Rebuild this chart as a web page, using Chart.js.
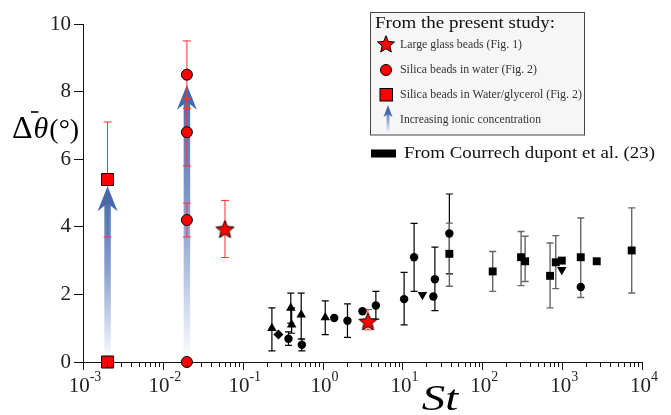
<!DOCTYPE html>
<html><head><meta charset="utf-8">
<script src="https://cdn.jsdelivr.net/npm/chart.js@4"></script>
<style>html,body{margin:0;padding:0;background:#fff}</style>
</head><body>
<canvas id="c" width="671" height="415"></canvas>
<script>
// ---- tick labels ----
const xDecades = [-3, -2, -1, 0, 1, 2, 3, 4];
const yTickValues = [0, 2, 4, 6, 8, 10];

// ---- present study (red) ----
const glassX = [0.060, 3.7];
const glassY = [3.93, 1.2];
const glassLo = [3.09, 0.95];
const glassHi = [4.78, 1.55];

const waterX = [0.020, 0.020, 0.020, 0.020];
const waterY = [0, 4.2, 6.8, 8.5];
const waterLo = [null, 3.7, 5.8, 7.5];
const waterHi = [null, 4.7, 7.8, 9.5];

const glycX = [0.00203, 0.00203];
const glycY = [0, 5.4];
const glycLo = [null, 3.7];
const glycHi = [null, 7.1];

// ionic concentration arrows
const arrowX = [0.00203, 0.020];
const arrowFrom = [0, 0];
const arrowTo = [5.2, 8.2];

// ---- Courrech du Pont et al. (black) ----
const circX = [0.374, 0.55, 1.4, 2.05, 3.16, 4.65, 10.5, 14, 24.4, 25.5, 38.7, 1710];
const circY = [0.69, 0.51, 1.3, 1.22, 1.5, 1.67, 1.86, 3.1, 1.94, 2.45, 3.8, 2.22];
const circLo = [0.49, 0.33, null, 0.73, null, 1.27, 1.1, 2.09, null, 1.52, 2.61, null];
const circHi = [0.89, 0.68, null, 1.72, null, 2.09, 2.65, 4.1, null, 3.4, 4.97, null];

const triUpX = [0.232, 0.40, 0.41, 0.54, 1.08];
const triUpY = [1.0, 1.6, 1.1, 1.4, 1.32];
const triUpLo = [0.33, 1.15, 0.85, 0.68, 0.81];
const triUpHi = [1.6, 2.04, 1.6, 2.04, 1.81];

const triDnX = [17.8, 990];
const triDnY = [1.99, 2.73];

const diaX = [0.28];
const diaY = [0.81];

const sqX = [38.7, 135, 306, 344, 706, 832, 990, 1710, 2710, 7430];
const sqY = [3.2, 2.68, 3.1, 2.98, 2.55, 2.95, 3.0, 3.1, 2.98, 3.3];
const sqLo = [2.24, 2.09, 2.26, 2.38, 1.6, 2.17, null, 1.91, null, 2.04];
const sqHi = [4.11, 3.27, 3.86, 3.72, 3.52, 3.74, null, 4.26, null, 4.56];

const SERIF = '"Liberation Serif", "DejaVu Serif", serif';

function pts(xs, ys) { return xs.map((x, i) => ({x: x, y: ys[i]})); }

function makeStar(r, fill, stroke) {
  const s = Math.ceil(2 * r + 4);
  const c = document.createElement('canvas');
  c.width = s; c.height = s;
  const g = c.getContext('2d');
  const cx = s / 2, cy = s / 2 + r * 0.08;
  g.beginPath();
  for (let i = 0; i < 10; i++) {
    const rr = i % 2 === 0 ? r : r * 0.45;
    const a = -Math.PI / 2 + i * Math.PI / 5;
    const px = cx + rr * Math.cos(a), py = cy + rr * Math.sin(a);
    if (i === 0) g.moveTo(px, py); else g.lineTo(px, py);
  }
  g.closePath();
  g.fillStyle = fill; g.fill();
  g.lineWidth = 1; g.strokeStyle = stroke; g.stroke();
  return c;
}
const starImg = makeStar(9.5, '#ff0000', '#000');
const starLegend = makeStar(9, '#ff0000', '#000');

const errorSets = [
  {x: circX, y: circY, lo: circLo, hi: circHi, color: '#000', cap: 3.5, w: 1.2},
  {x: triUpX, y: triUpY, lo: triUpLo, hi: triUpHi, color: '#000', cap: 3.5, w: 1.2},
  {x: sqX, y: sqY, lo: sqLo, hi: sqHi, color: '#666', cap: 3.5, w: 1.4},
  {x: glassX, y: glassY, lo: glassLo, hi: glassHi, color: '#ff3030', cap: 4, w: 1},
  {x: waterX, y: waterY, lo: waterLo, hi: waterHi, color: '#ff3030', cap: 4, w: 1},
  {x: glycX, y: glycY, lo: glycLo, hi: glycHi, color: '#ff3030', cap: 4, w: 1}
];

function drawArrow(ctx, x, yBase, yTip, shaftW, headW, headL, notch) {
  const grad = ctx.createLinearGradient(0, yBase, 0, yTip);
  grad.addColorStop(0, 'rgba(255,255,255,1)');
  grad.addColorStop(0.5, 'rgba(140,162,208,1)');
  grad.addColorStop(1, 'rgba(72,104,172,1)');
  ctx.fillStyle = grad;
  ctx.fillRect(x - shaftW / 2, yTip + headL - notch, shaftW, yBase - (yTip + headL - notch));
  ctx.beginPath();
  ctx.moveTo(x, yTip);
  ctx.lineTo(x + headW / 2, yTip + headL);
  ctx.lineTo(x, yTip + headL - notch);
  ctx.lineTo(x - headW / 2, yTip + headL);
  ctx.closePath();
  ctx.fillStyle = 'rgb(72,104,172)';
  ctx.fill();
}

function fitText(ctx, text, x, yMid, targetW, size, style) {
  ctx.font = style + ' ' + size + 'px ' + SERIF;
  const w = ctx.measureText(text).width;
  ctx.save();
  ctx.translate(x, yMid);
  ctx.scale(targetW / w, 1);
  ctx.textBaseline = 'middle';
  ctx.textAlign = 'left';
  ctx.fillText(text, 0, 0);
  ctx.restore();
}

const decor = {
  id: 'decor',
  beforeDatasetsDraw(chart) {
    const ctx = chart.ctx, xs = chart.scales.x, ys = chart.scales.y;
    ctx.save();
    for (let i = 0; i < arrowX.length; i++) {
      drawArrow(ctx, xs.getPixelForValue(arrowX[i]), ys.getPixelForValue(arrowFrom[i]),
        ys.getPixelForValue(arrowTo[i]), 6.5, 20, 25, 8);
    }
    errorSets.forEach(s => {
      ctx.strokeStyle = s.color; ctx.lineWidth = s.w;
      s.x.forEach((xv, i) => {
        if (s.lo[i] == null) return;
        const px = xs.getPixelForValue(xv);
        const p1 = ys.getPixelForValue(s.lo[i]), p2 = ys.getPixelForValue(s.hi[i]);
        ctx.beginPath();
        ctx.moveTo(px, p1); ctx.lineTo(px, p2);
        ctx.moveTo(px - s.cap, p1); ctx.lineTo(px + s.cap, p1);
        ctx.moveTo(px - s.cap, p2); ctx.lineTo(px + s.cap, p2);
        ctx.stroke();
      });
    });
    ctx.restore();
  },
  afterDraw(chart) {
    const ctx = chart.ctx, xs = chart.scales.x;
    const area = chart.chartArea;
    ctx.save();
    ctx.strokeStyle = '#111'; ctx.lineWidth = 1;
    for (let n = xDecades[0]; n <= xDecades[xDecades.length - 1]; n++) {
      for (let m = 1; m <= 9; m++) {
        const v = m * Math.pow(10, n);
        if (v > Math.pow(10, xDecades[xDecades.length - 1]) * 1.0001) break;
        const px = Math.round(xs.getPixelForValue(v)) + 0.5;
        const len = m === 1 ? 8 : 5;
        ctx.beginPath(); ctx.moveTo(px, area.bottom); ctx.lineTo(px, area.bottom + len); ctx.stroke();
      }
    }
    ctx.fillStyle = '#222';
    ctx.textBaseline = 'alphabetic';
    xDecades.forEach(n => {
      const px = xs.getPixelForValue(Math.pow(10, n));
      ctx.font = '21px ' + SERIF;
      const w1 = ctx.measureText('10').width;
      ctx.font = '14px ' + SERIF;
      const exp = n < 0 ? '-' + Math.abs(n) : String(n);
      const w2 = ctx.measureText(exp).width;
      const x0 = px - (w1 + w2) / 2 + 2;
      ctx.font = '21px ' + SERIF;
      ctx.fillText('10', x0, 392);
      ctx.font = '14px ' + SERIF;
      ctx.fillText(exp, x0 + w1, 381);
    });
    ctx.fillStyle = '#000';
    ctx.font = 'italic 36px ' + SERIF;
    ctx.textAlign = 'center';
    ctx.save();
    ctx.translate(440, 410); ctx.scale(1.3, 1);
    ctx.fillText('St', 0, 0);
    ctx.restore();
    ctx.textAlign = 'left';
    ctx.font = '32px ' + SERIF;
    ctx.fillText('\u0394', 12, 138);
    const dw = ctx.measureText('\u0394').width;
    ctx.font = 'italic 30px ' + SERIF;
    ctx.fillText('\u03b8', 12 + dw + 1, 138);
    const tw = ctx.measureText('\u03b8').width;
    ctx.font = '28px ' + SERIF;
    ctx.fillText('(\u00b0)', 12 + dw + tw + 2, 138);
    ctx.strokeStyle = '#000'; ctx.lineWidth = 1.6;
    ctx.beginPath(); ctx.moveTo(31, 112); ctx.lineTo(38.5, 112); ctx.stroke();

    ctx.fillStyle = '#f6f6f6';
    ctx.fillRect(370.5, 12.5, 214, 122.5);
    ctx.strokeStyle = '#444'; ctx.lineWidth = 1;
    ctx.strokeRect(370.5, 12.5, 214, 122.5);
    ctx.fillStyle = '#111';
    fitText(ctx, 'From the present study:', 375, 23.5, 180, 16.5, '');
    ctx.fillStyle = '#333';
    fitText(ctx, 'Large glass beads (Fig. 1)', 400, 44.5, 122, 11.5, '');
    fitText(ctx, 'Silica beads in water (Fig. 2)', 400, 70, 137, 11.5, '');
    fitText(ctx, 'Silica beads in Water/glycerol (Fig. 2)', 400, 95, 182, 11.5, '');
    fitText(ctx, 'Increasing ionic concentration', 400, 120, 141, 11.5, '');
    ctx.drawImage(starLegend, 386 - starLegend.width / 2, 44 - starLegend.height / 2);
    ctx.beginPath(); ctx.arc(386, 70, 5.5, 0, Math.PI * 2);
    ctx.fillStyle = '#ff0000'; ctx.fill(); ctx.strokeStyle = '#000'; ctx.lineWidth = 1; ctx.stroke();
    ctx.fillStyle = '#ff0000'; ctx.fillRect(380, 88.5, 12.5, 12.5);
    ctx.strokeRect(380, 88.5, 12.5, 12.5);
    drawArrow(ctx, 388, 134, 105, 3, 9, 12, 3);
    ctx.fillStyle = '#000';
    ctx.fillRect(371, 149.5, 25, 8);
    ctx.fillStyle = '#111';
    fitText(ctx, 'From Courrech dupont et al. (23)', 404, 154, 251, 16.5, '');
    ctx.restore();
  }
};

const datasets = [
  {label: 'glass', data: pts(glassX, glassY), pointStyle: starImg, pointRadius: 9, order: 0},
  {label: 'water', data: pts(waterX, waterY), pointStyle: 'circle', pointRadius: 5.5,
   backgroundColor: '#ff0000', borderColor: '#000', borderWidth: 1, order: 1},
  {label: 'glyc', data: pts(glycX, glycY), pointStyle: 'rect', pointRadius: 8.5,
   backgroundColor: '#ff0000', borderColor: '#000', borderWidth: 1, order: 2},
  {label: 'circ', data: pts(circX, circY), pointStyle: 'circle', pointRadius: 4.2,
   backgroundColor: '#000', borderColor: '#000', borderWidth: 0, order: 3},
  {label: 'triup', data: pts(triUpX, triUpY), pointStyle: 'triangle', pointRadius: 5.5,
   backgroundColor: '#000', borderColor: '#000', borderWidth: 0, order: 4},
  {label: 'tridn', data: pts(triDnX, triDnY), pointStyle: 'triangle', pointRotation: 180, pointRadius: 5.5,
   backgroundColor: '#000', borderColor: '#000', borderWidth: 0, order: 5},
  {label: 'dia', data: pts(diaX, diaY), pointStyle: 'rectRot', pointRadius: 5,
   backgroundColor: '#000', borderColor: '#000', borderWidth: 0, order: 6},
  {label: 'sq', data: pts(sqX, sqY), pointStyle: 'rect', pointRadius: 5.6,
   backgroundColor: '#000', borderColor: '#000', borderWidth: 0, order: 7}
];
datasets.forEach(d => { d.clip = false; d.showLine = false; d.pointHoverRadius = d.pointRadius; });

new Chart(document.getElementById('c'), {
  type: 'scatter',
  data: {datasets: datasets},
  options: {
    responsive: false,
    animation: false,
    events: [],
    layout: {padding: {top: 24, right: 29, left: 0, bottom: 0}},
    plugins: {legend: {display: false}, tooltip: {enabled: false}},
    scales: {
      x: {
        type: 'logarithmic',
        min: Math.pow(10, xDecades[0]),
        max: Math.pow(10, xDecades[xDecades.length - 1]),
        grid: {display: false},
        border: {display: true, color: '#111', width: 1},
        ticks: {display: false},
        afterFit(s) { s.height = 53; }
      },
      y: {
        type: 'linear',
        min: yTickValues[0],
        max: yTickValues[yTickValues.length - 1],
        afterBuildTicks(s) { s.ticks = yTickValues.map(v => ({value: v})); },
        grid: {drawOnChartArea: false, drawTicks: true, tickLength: 9, color: '#111'},
        border: {display: true, color: '#111', width: 1},
        ticks: {font: {family: SERIF, size: 21}, color: '#222', padding: 3},
        afterFit(s) { s.width = 83; }
      }
    }
  },
  plugins: [decor]
});
</script>
</body></html>
